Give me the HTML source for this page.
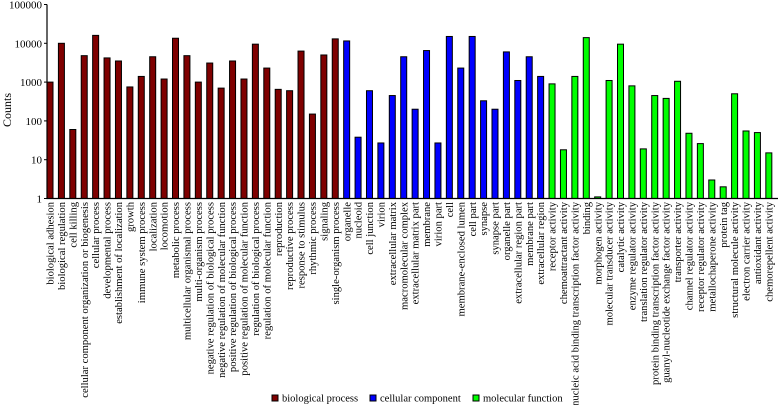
<!DOCTYPE html>
<html><head><meta charset="utf-8"><style>
body{margin:0;background:#fff;overflow:hidden;}
svg{display:block;font-family:"Liberation Serif",serif;}
</style></head><body>
<svg id="chart" width="779" height="405"></svg>
<script>
const categories=["biological adhesion","biological regulation","cell killing","cellular component organization or biogenesis","cellular process","developmental process","establishment of localization","growth","immune system process","localization","locomotion","metabolic process","multicellular organismal process","multi-organism process","negative regulation of biological process","negative regulation of molecular function","positive regulation of biological process","positive regulation of molecular function","regulation of biological process","regulation of molecular function","reproduction","reproductive process","response to stimulus","rhythmic process","signaling","single-organism process",
"organelle","nucleoid","cell junction","virion","extracellular matrix","macromolecular complex","extracellular matrix part","membrane","virion part","cell","membrane-enclosed lumen","cell part","synapse","synapse part","organelle part","extracellular region part","membrane part","extracellular region",
"receptor activity","chemoattractant activity","nucleic acid binding transcription factor activity","binding","morphogen activity","molecular transducer activity","catalytic activity","enzyme regulator activity","translation regulator activity","protein binding transcription factor activity","guanyl-nucleotide exchange factor activity","transporter activity","channel regulator activity","receptor regulator activity","metallochaperone activity","protein tag","structural molecule activity","electron carrier activity","antioxidant activity","chemorepellent activity"];
const counts=[1000,10000,60,4800,16000,4200,3500,750,1400,4500,1200,13500,4800,1000,3100,700,3500,1200,9500,2300,650,600,6300,150,5000,13000,
11500,38,600,27,450,4500,200,6500,27,15000,2300,15000,330,200,6000,1100,4500,1400,
900,18,1400,14000,1.1,1100,9500,800,19,450,380,1050,48,26,3,2,500,55,50,15];
const groups=[26,18,20];
const groupNames=["biological process","cellular component","molecular function"];
const groupColors=["#7f0000","#0000ff","#00ff00"];
const yTicks=[1,10,100,1000,10000,100000];

const svg=document.getElementById('chart');
const NS='http://www.w3.org/2000/svg';
function mk(t,a){const e=document.createElementNS(NS,t);for(const k in a)e.setAttribute(k,a[k]);svg.appendChild(e);return e;}
const x0=50,step=11.41,bw=6,yTop=4.5,yBot=198.5;
const y=v=>yBot-(Math.log10(v)/5)*(yBot-yTop);
const x=i=>x0+i*step;
let gi=0,acc=groups[0];
for(let i=0;i<categories.length;i++){
  while(i>=acc){gi++;acc+=groups[gi];}
  const b=mk('rect',{x:x(i)-bw/2,y:y(counts[i]),width:bw,height:yBot-y(counts[i]),fill:groupColors[gi],stroke:'#000','stroke-width':1});
  
  
  const t=mk('text',{x:0,y:0,'font-size':10.6,'text-anchor':'end',transform:`translate(${x(i)+3.6},202) rotate(-90)`});
  t.textContent=categories[i];
  
  
}
const ax=mk('path',{d:`M47,${yTop}V${yBot}H778`,stroke:'#000','stroke-width':1.2,fill:'none'});


yTicks.forEach(v=>{
  const tk=mk('line',{x1:44,x2:47,y1:y(v),y2:y(v),stroke:'#000'});
  
  
  const t=mk('text',{x:42,y:y(v)+4,'font-size':11,'text-anchor':'end'});
  t.textContent=v;
  
  
});
const yt=mk('text',{x:0,y:0,'font-size':12,'text-anchor':'middle',transform:'translate(11,110) rotate(-90)'});
yt.textContent='Counts';


const lx=[272,370,473];
groupNames.forEach((n,k)=>{
  const r=mk('rect',{x:lx[k],y:395,width:6,height:6,fill:groupColors[k],stroke:'#000'});
  
  
  const t=mk('text',{x:lx[k]+10,y:401.5,'font-size':10.5});
  t.textContent=n;
  
  
});
</script>
</body></html>
